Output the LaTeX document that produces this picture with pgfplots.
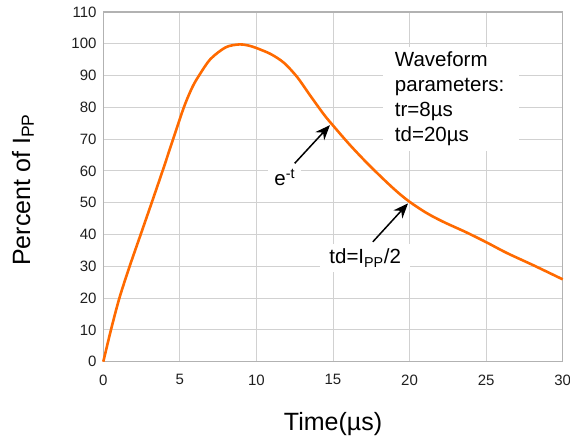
\documentclass[border=0pt]{standalone}
\usepackage{pgfplots}
\pgfplotsset{compat=1.18}
\usepackage{fontspec}
\setmainfont{Liberation Sans}
\usetikzlibrary{arrows.meta}
\definecolor{curve}{HTML}{FF6A00}
\begin{document}
\begin{tikzpicture}
\path[use as bounding box] (-103.3pt,-81.3pt) rectangle (466.7pt,361.7pt);
\begin{axis}[
  at={(0pt,0pt)}, anchor=south west,
  scale only axis, width=459.4pt, height=349.7pt,
  xmin=0, xmax=30, ymin=0, ymax=110,
  xtick={0,5,...,30}, ytick={0,10,...,110},
  grid=major,
  major grid style={color=black!18, line width=1pt},
  axis line style={color=black!30, line width=1.2pt},
  major tick length=0pt,
  tick style={draw=none},
  tick label style={font=\fontsize{15}{17}\selectfont, text=black!88},
  /pgf/number format/assume math mode=true,
  xticklabel style={yshift=-9.3pt},
  yticklabel style={xshift=-3.3pt},
  clip=false,
]
\addplot[color=curve, line width=2.6pt, smooth, tension=0.5] coordinates {
(0,0) (0.5,10) (1.05,20) (1.72,30) (2.44,40) (3.16,50) (3.87,60) (4.56,70)
(5.26,80) (5.8,86.2) (6.25,90) (7.0,95.2) (8,98.9) (8.9,99.8) (9.6,99.3)
(10.3,98.1) (11,96.6) (11.8,94.0) (12.65,89.6) (13.5,83.8) (14.4,77.8)
(15,74.3) (16.1,68.2) (17.2,62.6) (18.3,57.4) (19.2,53.4) (20,50.3)
(21.1,46.8) (22.2,44.0) (23.7,40.7) (25,37.6) (26.35,34.2) (28.1,30.3) (30,25.9)
};
\node[fill=white, inner xsep=6pt, inner ysep=5pt, font=\fontsize{20.5}{25}\selectfont]
  at (axis cs:11.85,58) {e\textsuperscript{-t}};
\node[anchor=north west, fill=white, inner xsep=12pt, inner ysep=5pt, align=left,
  text width=112pt, font=\fontsize{20.5}{25}\selectfont]
  at (axis cs:18.25,99.2) {Waveform\\parameters:\\tr=8µs\\td=20µs};
\node[fill=white, inner xsep=9pt, inner ysep=5pt, font=\fontsize{20.5}{25}\selectfont]
  at (axis cs:17.1,32.6) {td=I\textsubscript{PP}/2};
\draw[line width=1.5pt, -{Stealth[length=15pt, width=12pt]}]
  (axis cs:12.5,62.4) -- (axis cs:14.8,74.4);
\draw[line width=1.5pt, -{Stealth[length=15pt, width=12pt]}]
  (axis cs:17.6,37.7) -- (axis cs:19.9,49.8);
\end{axis}
\node[font=\fontsize{25}{28}\selectfont] at (229.7pt,-62.3pt) {Time(µs)};
\node[rotate=90, font=\fontsize{25}{28}\selectfont] at (-80.3pt,171.7pt) {Percent of I\textsubscript{PP}};
\end{tikzpicture}
\end{document}
